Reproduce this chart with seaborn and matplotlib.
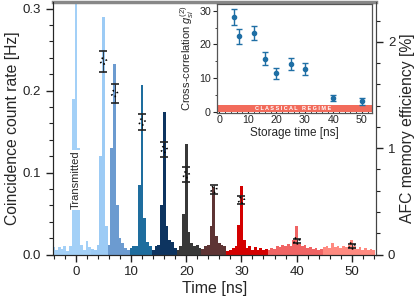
import matplotlib
matplotlib.use('Agg')
import matplotlib.pyplot as plt
from matplotlib.ticker import MultipleLocator
import numpy as np
import pandas as pd
import seaborn as sns

# histogram segments: first bin centre [ns], rates per 0.5 ns bin [Hz], colour
bin_width = 0.5
seg_starts = [-4.0, 3.0, 6.0, 10.0, 14.0, 18.5, 23.0, 27.5, 35.0, 45.0]
seg_rates = [
    [0.009, 0.006, 0.009, 0.007, 0.010, 0.004, 0.011, 0.190, 0.340, 0.130, 0.012, 0.006, 0.016, 0.009],
    [0.007, 0.005, 0.012, 0.120, 0.290, 0.035],
    [0.012, 0.130, 0.232, 0.060, 0.020, 0.014, 0.008, 0.006],
    [0.008, 0.011, 0.010, 0.085, 0.207, 0.045, 0.015, 0.010],
    [0.006, 0.010, 0.012, 0.060, 0.174, 0.035, 0.018, 0.015, 0.008],
    [0.006, 0.010, 0.050, 0.135, 0.028, 0.014, 0.010, 0.012, 0.008],
    [0.007, 0.010, 0.012, 0.035, 0.082, 0.022, 0.014, 0.012, 0.010],
    [0.004, 0.006, 0.008, 0.010, 0.036, 0.083, 0.018, 0.008, 0.010, 0.006, 0.009, 0.005, 0.008, 0.006, 0.007],
    [0.006, 0.008, 0.007, 0.010, 0.009, 0.012, 0.010, 0.013, 0.011, 0.018,
     0.035, 0.013, 0.010, 0.012, 0.008, 0.009, 0.007, 0.008, 0.006, 0.007],
    [0.009, 0.010, 0.008, 0.014, 0.009, 0.011, 0.008, 0.010, 0.009, 0.012,
     0.018, 0.010, 0.007, 0.009, 0.006, 0.008, 0.005, 0.007, 0.006],
]
seg_colors = ['#a3d0f7', '#9ccbf5', '#6c9bd0', '#1e6d9e', '#0d3460',
              '#383838', '#5e3434', '#d40000', '#f06464', '#ff8a80']

# echo efficiency (right axis)
storage = [5, 7, 12, 16, 20, 25, 30, 40, 50]
eff = [1.82, 1.515, 1.247, 0.988, 0.75, 0.611, 0.511, 0.128, 0.081]
eff_err = [0.099, 0.088, 0.078, 0.074, 0.072, 0.042, 0.038, 0.02, 0.015]

# cross-correlation (inset)
g2 = [28.2, 22.35, 23.35, 15.8, 11.4, 14.2, 12.6, 4.2, 3.06]
g2_err = [2.35, 2.2, 2.06, 1.9, 1.6, 1.8, 1.8, 0.9, 1.1]

sns.set_style('ticks')
plt.rcParams['font.family'] = ['Liberation Sans', 'DejaVu Sans']
plt.rcParams['mathtext.fontset'] = 'custom'
plt.rcParams['mathtext.it'] = 'Liberation Sans:italic'
plt.rcParams['mathtext.rm'] = 'Liberation Sans'

fig, ax = plt.subplots(figsize=(4.16, 2.97), dpi=100)
fig.subplots_adjust(left=0.1267, right=0.904, bottom=0.143, top=0.993)

for start, rates, col in zip(seg_starts, seg_rates, seg_colors):
    seg = pd.DataFrame({'t': start + bin_width * np.arange(len(rates)), 'rate': rates})
    lo = seg['t'].iloc[0] - bin_width / 2
    hi = seg['t'].iloc[-1] + bin_width / 2
    sns.histplot(data=seg, x='t', weights='rate', binwidth=bin_width, binrange=(lo, hi),
                 color=col, alpha=1, element='bars', linewidth=0, ax=ax)

ax.text(0, 0.091, 'Transmitted', rotation=90, ha='center', va='center', fontsize=8,
        bbox=dict(facecolor='white', edgecolor='none', pad=0.6))

ax.set_xlim(-4.2, 54.4)
ax.set_ylim(0, 0.308)
ax.xaxis.set_major_locator(MultipleLocator(10))
ax.xaxis.set_minor_locator(MultipleLocator(2))
ax.yaxis.set_major_locator(MultipleLocator(0.1))
ax.yaxis.set_minor_locator(MultipleLocator(0.02))
ax.yaxis.set_major_formatter(lambda v, p: f'{v:.1f}')
ax.set_xlabel('Time [ns]', fontsize=11.5, labelpad=2)
ax.set_ylabel('Coincidence count rate [Hz]', fontsize=11.3, labelpad=2)
ax.tick_params(which='major', direction='out', length=5, width=1, labelsize=9.5, colors='#222')
ax.tick_params(which='minor', direction='out', length=3, width=0.8, colors='#222')
for s in ['left', 'bottom', 'right']:
    ax.spines[s].set_color('#444')
ax.spines['top'].set_color('#888')
ax.spines['top'].set_linewidth(2.5)

ax2 = ax.twinx()
ax2.set_ylim(0, 2.375)
ax2.errorbar(storage, eff, yerr=eff_err, fmt='none', ecolor='#222', elinewidth=0.6,
             capsize=3.2, capthick=1.2, zorder=3)
sns.scatterplot(x=storage, y=eff, ax=ax2, marker='o', s=18, facecolor='none',
                edgecolor='black', linewidth=1.3, linestyle=(0, (0.8, 1.9)), zorder=4)
ax2.yaxis.set_major_locator(MultipleLocator(1))
ax2.yaxis.set_minor_locator(MultipleLocator(0.2))
ax2.set_ylabel('AFC memory efficiency [%]', fontsize=11.3, labelpad=3)
ax2.tick_params(which='major', direction='out', length=5, width=1, labelsize=9.5, colors='#222')
ax2.tick_params(which='minor', direction='out', length=3, width=0.8, colors='#222')
ax2.spines['right'].set_color('#444')
ax2.spines['top'].set_visible(False)

ins = fig.add_axes([0.522, 0.6205, 0.3726, 0.366])
ins.set_facecolor('white')
ins.axhspan(0, 2, color='#f26b5b', lw=0)
ins.text(26, 1.0, 'C L A S S I C A L   R E G I M E', color='white', fontsize=4,
         fontweight='bold', ha='center', va='center')
ins.errorbar(storage, g2, yerr=g2_err, fmt='o', color='#1f6fa5', ms=3,
             elinewidth=1, capsize=2.5, capthick=1)
ins.set_xlim(-0.8, 53.6)
ins.set_ylim(-0.3, 32)
ins.xaxis.set_major_locator(MultipleLocator(10))
ins.xaxis.set_minor_locator(MultipleLocator(2))
ins.yaxis.set_major_locator(MultipleLocator(10))
ins.yaxis.set_minor_locator(MultipleLocator(5))
ins.set_xlabel('Storage time [ns]', fontsize=8.5, labelpad=1)
ins.set_ylabel(r'Cross-correlation $g^{(2)}_{si}$', fontsize=8, labelpad=2)
ins.tick_params(axis='y', which='major', direction='out', length=3, labelsize=7.7, pad=1.5)
ins.tick_params(axis='y', which='minor', direction='out', length=1.5)
ins.tick_params(axis='x', which='major', direction='in', length=3, labelsize=7.7, pad=2)
ins.tick_params(axis='x', which='minor', direction='in', length=1.5)
for s in ins.spines.values():
    s.set_color('#555')
    s.set_linewidth(0.9)

fig.savefig('out.png', dpi=100)
